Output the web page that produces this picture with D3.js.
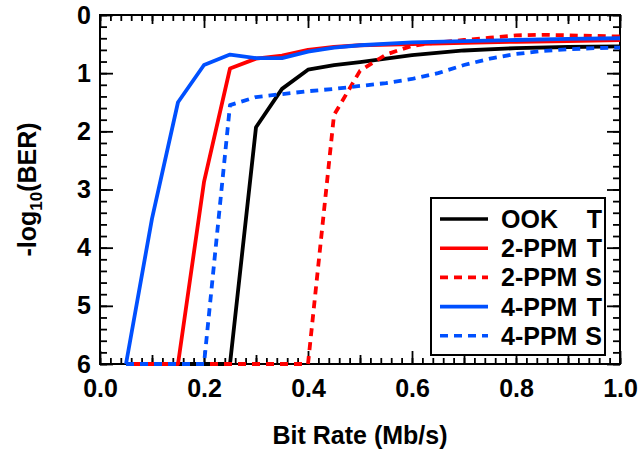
<!DOCTYPE html>
<html>
<head>
<meta charset="utf-8">
<script src="https://cdn.jsdelivr.net/npm/d3@7"></script>
<style>
  body { margin: 0; background: #fff; }
  text { font-family: "Liberation Sans", Arial, sans-serif; font-weight: bold; }
</style>
</head>
<body>
<div id="chart"></div>
<script>
// values: [bit rate (Mb/s), -log10(BER)]
var ookT  = [[0.05,6],[0.25,6],[0.3,1.93],[0.35,1.27],[0.4,0.94],[0.45,0.86],[0.5,0.81],[0.6,0.69],[0.7,0.61],[0.8,0.57],[0.9,0.55],[1.0,0.54]];
var ppm2T = [[0.05,6],[0.15,6],[0.2,2.87],[0.25,0.92],[0.3,0.75],[0.35,0.7],[0.4,0.6],[0.45,0.55],[0.5,0.52],[0.6,0.5],[0.7,0.48],[0.8,0.46],[0.9,0.45],[1.0,0.43]];
var ppm2S = [[0.05,6],[0.4,6],[0.45,1.72],[0.5,0.96],[0.55,0.68],[0.6,0.53],[0.65,0.47],[0.7,0.43],[0.75,0.39],[0.8,0.35],[0.85,0.34],[0.9,0.35],[1.0,0.37]];
var ppm4T = [[0.05,6],[0.1,3.5],[0.15,1.5],[0.2,0.86],[0.25,0.68],[0.3,0.74],[0.35,0.74],[0.4,0.63],[0.45,0.56],[0.5,0.52],[0.6,0.47],[0.7,0.45],[0.8,0.43],[0.9,0.41],[1.0,0.4]];
var ppm4S = [[0.05,6],[0.2,6],[0.25,1.55],[0.3,1.41],[0.35,1.36],[0.4,1.31],[0.45,1.27],[0.5,1.22],[0.55,1.17],[0.6,1.1],[0.65,1.0],[0.7,0.86],[0.75,0.75],[0.8,0.67],[0.85,0.62],[0.9,0.59],[0.95,0.57],[1.0,0.56]];

var seriesNames  = ["OOK", "2-PPM", "2-PPM", "4-PPM", "4-PPM"];
var seriesKinds  = ["T", "T", "S", "T", "S"];
var seriesData   = [ookT, ppm2T, ppm2S, ppm4T, ppm4S];
var seriesColors = ["#000000", "#ff0000", "#ff0000", "#0050ff", "#0050ff"];

var xTicks = [0, 0.2, 0.4, 0.6, 0.8, 1.0];
var yTicks = [0, 1, 2, 3, 4, 5, 6];

var margin = {top: 15, right: 19, bottom: 85, left: 100},
    W = 639, H = 449,
    width = W - margin.left - margin.right,
    height = H - margin.top - margin.bottom,
    fs = "25px";

var svg = d3.select("#chart").append("svg")
    .attr("width", W)
    .attr("height", H);

var g = svg.append("g")
    .attr("transform", "translate(" + margin.left + "," + margin.top + ")");

var x = d3.scaleLinear().domain([0, 1]).range([0, width]);
var y = d3.scaleLinear().domain([0, 6]).range([0, height]);

var xMinor = d3.range(0, 1.0001, 0.02).map(function(d) { return +d.toFixed(2); });
var xMid = [0.1, 0.3, 0.5, 0.7, 0.9];
var yMinor = d3.range(0, 6.0001, 0.2).map(function(d) { return +d.toFixed(1); });

function styleAxis(sel) {
    sel.select(".domain").remove();
    sel.selectAll(".tick line").attr("stroke", "#000").attr("stroke-width", 1.8);
    sel.selectAll("text").attr("fill", "#000").style("font-size", fs);
}

// minor / medium ticks, all sides, pointing inward
[[xMinor, 6], [xMid, 9]].forEach(function(t) {
    g.append("g").attr("transform", "translate(0," + height + ")")
        .call(d3.axisBottom(x).tickValues(t[0]).tickSize(-t[1]).tickFormat("")).call(styleAxis);
    g.append("g")
        .call(d3.axisTop(x).tickValues(t[0]).tickSize(-t[1]).tickFormat("")).call(styleAxis);
});
g.append("g")
    .call(d3.axisLeft(y).tickValues(yMinor).tickSize(-7).tickFormat("")).call(styleAxis);
g.append("g").attr("transform", "translate(" + width + ",0)")
    .call(d3.axisRight(y).tickValues(yMinor).tickSize(-7).tickFormat("")).call(styleAxis);

// major ticks with labels
g.append("g").attr("transform", "translate(0," + height + ")")
    .call(d3.axisBottom(x).tickValues(xTicks).tickSize(-13).tickPadding(15).tickFormat(d3.format(".1f")))
    .call(styleAxis);
g.append("g")
    .call(d3.axisTop(x).tickValues(xTicks).tickSize(-13).tickFormat(""))
    .call(styleAxis);
g.append("g")
    .call(d3.axisLeft(y).tickValues(yTicks).tickSize(-13).tickPadding(9).tickFormat(d3.format("d")))
    .call(styleAxis);
g.append("g").attr("transform", "translate(" + width + ",0)")
    .call(d3.axisRight(y).tickValues(yTicks).tickSize(-13).tickFormat(""))
    .call(styleAxis);

g.append("rect")
    .attr("width", width)
    .attr("height", height)
    .attr("fill", "none")
    .attr("stroke", "#000")
    .attr("stroke-width", 2);

var line = d3.line()
    .x(function(d) { return x(d[0]); })
    .y(function(d) { return y(d[1]); });

seriesData.forEach(function(data, i) {
    g.append("path")
        .datum(data)
        .attr("d", line)
        .attr("fill", "none")
        .attr("stroke", seriesColors[i])
        .attr("stroke-width", 3.8)
        .attr("stroke-linejoin", "round")
        .attr("stroke-dasharray", seriesKinds[i] == "S" ? "8,6" : null);
});

// legend
var lg = g.append("g").attr("transform", "translate(331,183)");
lg.append("rect")
    .attr("width", 174)
    .attr("height", 157)
    .attr("fill", "#fff")
    .attr("stroke", "#000")
    .attr("stroke-width", 2);

seriesNames.forEach(function(name, i) {
    var row = lg.append("g").attr("transform", "translate(0," + (21 + i * 29.2) + ")");
    row.append("line")
        .attr("x1", 9).attr("x2", 57)
        .attr("stroke", seriesColors[i])
        .attr("stroke-width", 3.6)
        .attr("stroke-dasharray", seriesKinds[i] == "S" ? "8,6" : null);
    row.append("text")
        .attr("x", 70).attr("dy", "0.36em")
        .style("font-size", fs)
        .text(name);
    row.append("text")
        .attr("x", 171).attr("dy", "0.36em")
        .attr("text-anchor", "end")
        .style("font-size", fs)
        .text(seriesKinds[i]);
});

// axis titles
svg.append("text")
    .attr("x", margin.left + width / 2)
    .attr("y", 444)
    .attr("text-anchor", "middle")
    .style("font-size", fs)
    .text("Bit Rate (Mb/s)");

var yt = svg.append("text")
    .attr("transform", "translate(36," + (margin.top + height / 2) + ") rotate(-90)")
    .attr("text-anchor", "middle")
    .style("font-size", fs);
yt.append("tspan").text("-log");
yt.append("tspan").attr("dy", 6).style("font-size", "17px").text("10");
yt.append("tspan").attr("dy", -6).text("(BER)");
</script>
</body>
</html>
